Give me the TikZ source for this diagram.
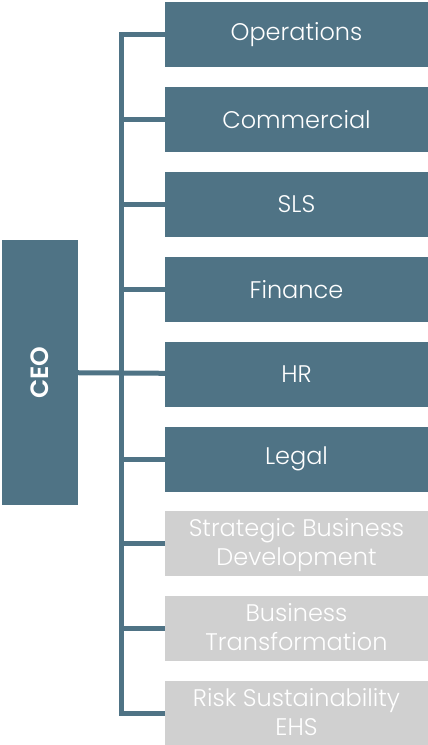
\documentclass[tikz,border=0pt]{standalone}
\usepackage{fontspec}
\setmainfont{Poppins}[UprightFont=* Light, BoldFont=* SemiBold]
\usetikzlibrary{positioning}
\definecolor{slate}{HTML}{4F7385}
\definecolor{lightgrey}{HTML}{D0D0D0}

\begin{document}
\begin{tikzpicture}[x=1pt, y=-1pt, node distance=19.5pt,
    dept/.style={rectangle, fill=slate, text=white, minimum width=263pt, minimum height=65pt, inner sep=0pt, align=center, font=\fontsize{24}{29}\selectfont},
    staff/.style={dept, fill=lightgrey, text depth=4pt},
    link/.style={draw=slate, line width=5pt}]
    \useasboundingbox (0,0) rectangle (428,745);
    % Nodes
    \node[dept] (Operations) at (296.5,34.5) {Operations};
    \node[dept, below=of Operations] (Commercial) {Commercial};
    \node[dept, below=of Commercial] (SLS) {SLS};
    \node[dept, below=of SLS] (Finance) {Finance};
    \node[dept, below=of Finance] (HR) {HR};
    \node[dept, below=of HR] (Legal) {Legal};
    \node[staff, below=of Legal] (Strategic) {Strategic Business\\Development};
    \node[staff, below=of Strategic] (Transformation) {Business\\Transformation};
    \node[staff, below=of Transformation] (Risk) {Risk Sustainability\\EHS};
    \node[rectangle, fill=slate, text=white, rotate=90, minimum width=265pt, minimum height=76pt, inner sep=0pt, font=\fontsize{25}{28}\selectfont\bfseries] (CEO) at (40,372.5) {CEO};
    % Lines
    \coordinate (bus) at (121.5,0);
    \draw[link] (Operations.west) -| (bus |- Risk.west) -- (Risk.west);
    \foreach \n in {Commercial, SLS, Finance, Legal, Strategic, Transformation}
        \draw[link] (\n.west) -- (bus |- \n.west);
    \draw[link] (CEO) -- (HR);
\end{tikzpicture}
\end{document}
